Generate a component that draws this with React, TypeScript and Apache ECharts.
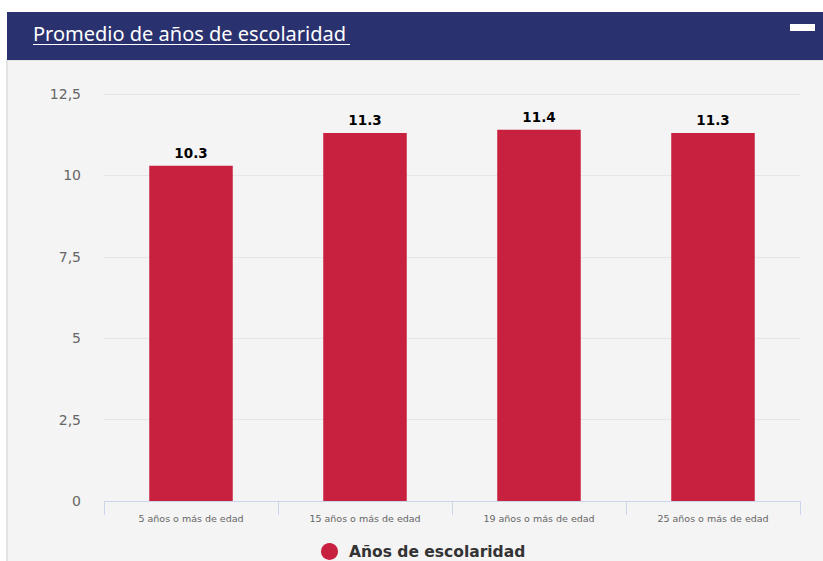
import React, { useEffect, useRef } from "react";
import * as echarts from "echarts";

const categories = [
  "5 años o más de edad",
  "15 años o más de edad",
  "19 años o más de edad",
  "25 años o más de edad",
];
const seriesName = "Años de escolaridad";
const values = [10.3, 11.3, 11.4, 11.3];
const yTicks = { min: 0, max: 12.5, interval: 2.5 };
const titleText = "Promedio de años de escolaridad";

export default function App() {
  const ref = useRef<HTMLDivElement>(null);
  useEffect(() => {
    if (!ref.current) return;
    const chart = echarts.init(ref.current, null, { renderer: "svg" });
    chart.setOption({
      animation: false,
      backgroundColor: "#ffffff",
      graphic: [
        {
          type: "rect",
          shape: { x: 7, y: 60, width: 830, height: 510 },
          style: { fill: "#f4f4f4", stroke: "#e2e2e2", lineWidth: 2 },
          z: -10,
        },
        {
          type: "rect",
          shape: { x: 7, y: 12, width: 830, height: 48 },
          style: { fill: "#29316e" },
          z: -5,
        },
        {
          type: "text",
          x: 33,
          y: 33,
          style: {
            text: titleText,
            fill: "#ffffff",
            fontSize: 20,
            fontFamily: "Noto Sans",
            verticalAlign: "middle",
          },
        },
        {
          type: "line",
          shape: { x1: 33, y1: 44.5, x2: 350, y2: 44.5 },
          style: { stroke: "#ffffff", lineWidth: 1 },
        },
        {
          type: "rect",
          shape: { x: 790, y: 24, width: 25, height: 7 },
          style: { fill: "#ffffff" },
        },
      ],
      grid: { left: 104, right: 23, top: 94, bottom: 60 },
      legend: {
        left: 321,
        top: 543,
        padding: 0,
        icon: "circle",
        itemWidth: 17,
        itemHeight: 17,
        textStyle: {
          fontFamily: "DejaVu Sans",
          fontWeight: "bold",
          fontSize: 15.5,
          lineHeight: 17,
          color: "#333333",
          padding: [0, 0, 0, 6],
        },
        data: [seriesName],
      },
      xAxis: {
        type: "category",
        data: categories,
        axisLine: { lineStyle: { color: "#ccd6eb" } },
        axisTick: { show: true, length: 14, lineStyle: { color: "#ccd6eb" } },
        axisLabel: {
          color: "#666666",
          fontSize: 9.5,
          fontFamily: "DejaVu Sans",
          margin: 12,
        },
      },
      yAxis: {
        type: "value",
        min: yTicks.min,
        max: yTicks.max,
        interval: yTicks.interval,
        axisLine: { show: false },
        axisTick: { show: false },
        splitLine: { lineStyle: { color: "#e6e6e6" } },
        axisLabel: {
          color: "#666666",
          fontSize: 14,
          fontFamily: "DejaVu Sans",
          margin: 23,
          formatter: (v: number) => String(v).replace(".", ","),
        },
      },
      series: [
        {
          name: seriesName,
          type: "bar",
          data: values,
          barWidth: "48%",
          itemStyle: { color: "#c8213f" },
          label: {
            show: true,
            position: "top",
            distance: 6,
            color: "#000000",
            fontWeight: "bold",
            fontSize: 13.5,
            fontFamily: "DejaVu Sans",
            formatter: (p: any) => p.value.toFixed(1),
          },
        },
      ],
    });
    return () => chart.dispose();
  }, []);
  return (
    <div
      ref={ref}
      style={{ position: "fixed", left: 0, top: 0, width: 823, height: 561 }}
    />
  );
}
